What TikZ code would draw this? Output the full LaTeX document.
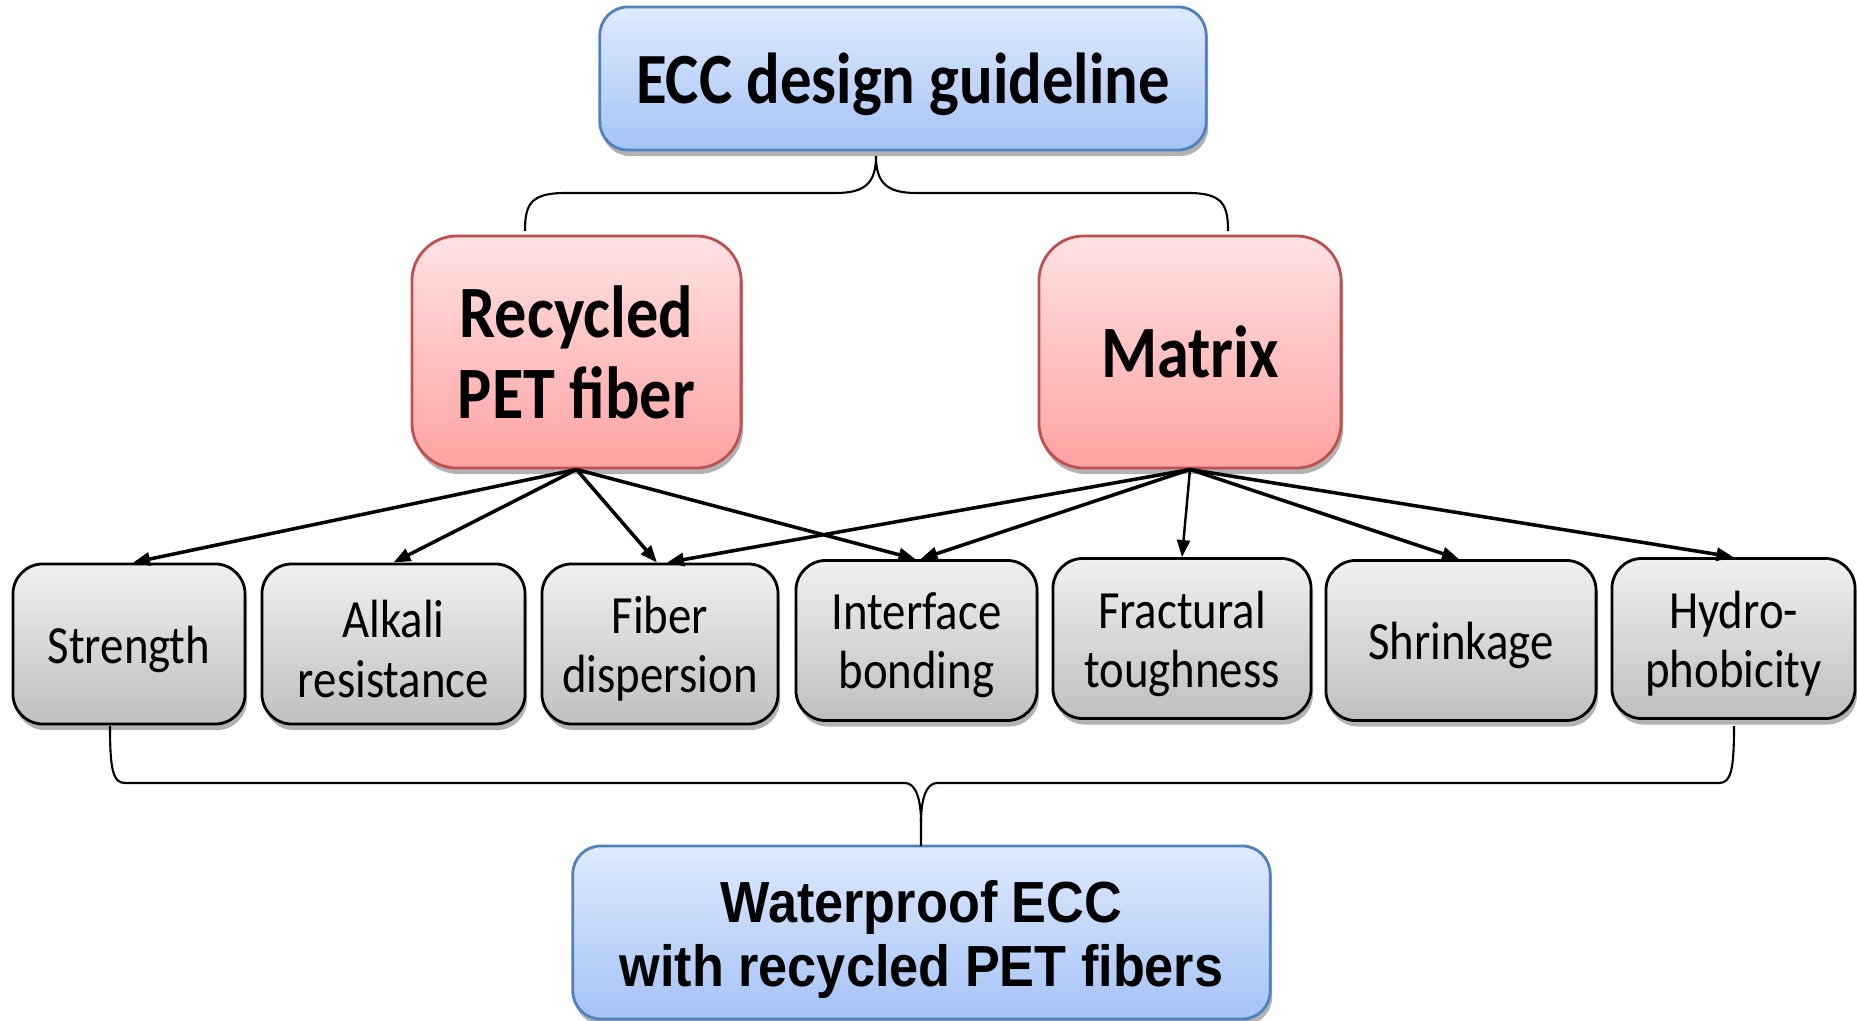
\documentclass[tikz,border=0pt]{standalone}
\usepackage{fontspec}
\setmainfont{Carlito}
\newfontfamily\calfont{Carlito}[FakeStretch=0.87]
\newfontfamily\arfont{Liberation Sans}[FakeStretch=0.9]
\usetikzlibrary{arrows.meta,shadows}
\definecolor{bluetop}{HTML}{DEEAFD}
\definecolor{bluebot}{HTML}{A5C3F6}
\definecolor{blueline}{HTML}{4F81BD}
\definecolor{redtop}{HTML}{FFE2E2}
\definecolor{redbot}{HTML}{FFA2A2}
\definecolor{redline}{HTML}{C0504D}
\definecolor{greytop}{HTML}{F0F0F0}
\definecolor{greybot}{HTML}{BFBFBF}
\tikzset{
  boxshadow/.style={drop shadow={shadow xshift=0.02cm,shadow yshift=-0.06cm,opacity=0.3,fill=black}},
  bluebox/.style={boxshadow,draw=blueline,line width=0.8pt,top color=bluetop,bottom color=bluebot,rounded corners=0.28cm,inner sep=0pt},
  redbox/.style={boxshadow,draw=redline,line width=0.8pt,top color=redtop,bottom color=redbot,rounded corners=0.45cm,inner sep=0pt},
  greybox/.style={boxshadow,draw=black,line width=0.8pt,top color=greytop,bottom color=greybot,rounded corners=0.3cm,inner sep=0pt,
    minimum height=1.6cm},
  toptext/.style={align=center,inner sep=0pt,yshift=-0.06cm,font=\calfont\bfseries\fontsize{20.5}{22}\selectfont},
  bottext/.style={align=center,inner sep=0pt,yshift=-0.07cm,font=\arfont\bfseries\fontsize{16.5}{18.2}\selectfont},
  redtext/.style={align=center,inner sep=0pt,font=\calfont\bfseries\fontsize{21}{23}\selectfont},
  greytext/.style={align=center,inner sep=0pt,yshift=-0.05cm,font=\calfont\fontsize{15.3}{16.8}\selectfont},
  arr/.style={-{Triangle[length=0.17cm,width=0.13cm]},line width=1pt},
  brace/.style={line width=0.6pt}
}
\begin{document}
\begin{tikzpicture}[x=0.01cm,y=-0.01cm]
\useasboundingbox (0,0) rectangle (1857,1021);
% top and bottom
\node[bluebox,minimum width=6.06cm,minimum height=1.43cm,label={[toptext]center:ECC design guideline}] (top) at (903,78.5) {};
\node[bluebox,minimum width=6.97cm,minimum height=1.73cm,label={[bottext]center:Waterproof ECC\\with recycled PET fibers}] (bot) at (921.5,932.5) {};
% middle
\node[redbox,minimum width=3.29cm,minimum height=2.32cm,label={[redtext]center:Recycled\\PET fiber}] (pet) at (576.5,352) {};
\node[redbox,minimum width=3.02cm,minimum height=2.32cm,label={[redtext]center:Matrix}] (mat) at (1190,352) {};
% lower row
\node[greybox,minimum width=2.32cm,label={[greytext]center:Strength}] (str) at (129,644) {};
\node[greybox,minimum width=2.63cm,label={[greytext]center:Alkali\\resistance}] (alk) at (393.5,644) {};
\node[greybox,minimum width=2.36cm,label={[greytext]center:Fiber\\dispersion}] (fib) at (660,644) {};
\node[greybox,minimum width=2.41cm,label={[greytext]center:Interface\\bonding}] (int) at (916.5,640.5) {};
\node[greybox,minimum width=2.58cm,label={[greytext]center:Fractural\\toughness}] (fra) at (1182,638.5) {};
\node[greybox,minimum width=2.70cm,label={[greytext]center:Shrinkage}] (shr) at (1461,640.5) {};
\node[greybox,minimum width=2.43cm,label={[greytext]center:Hydro-\\phobicity}] (hyd) at (1733.5,638.5) {};
% arrows
\draw[arr] (pet.south) -- ([xshift=0.04cm]str.north);
\draw[arr] (pet.south) -- (alk.north);
\draw[arr] (pet.south) -- ([xshift=-0.03cm]fib.north);
\draw[arr] (pet.south) -- ([xshift=-0.01cm]int.north);
\draw[arr] (mat.south) -- ([xshift=0.07cm]fib.north);
\draw[arr] (mat.south) -- ([xshift=0.04cm]int.north);
\draw[arr,line width=0.7pt] (mat.south) -- (fra.north);
\draw[arr] (mat.south) -- ([xshift=-0.02cm]shr.north);
\draw[arr] (mat.south) -- (hyd.north);
% top brace
\coordinate (tb) at (876,156);
\coordinate (tl) at (525,231);
\coordinate (tr) at (1228,231);
\draw[brace] (tl) .. controls (525,205) and (530,193) .. (565,193) -- (836,193)
  .. controls (866,193) and (876,182) .. (tb)
  .. controls (876,182) and (886,193) .. (916,193) -- (1188,193)
  .. controls (1223,193) and (1228,205) .. (tr);
% bottom brace
\coordinate (bl) at (110,726);
\coordinate (br) at (1734,726);
\coordinate (bb) at (921,846);
\draw[brace] (bl) .. controls (110,770) and (113,783) .. (125,783) -- (905,783)
  .. controls (916,783) and (921,800) .. (921,822) -- (bb);
\draw[brace] (921,822) .. controls (921,800) and (926,783) .. (937,783) -- (1719,783)
  .. controls (1731,783) and (1734,770) .. (br);
\end{tikzpicture}
\end{document}
